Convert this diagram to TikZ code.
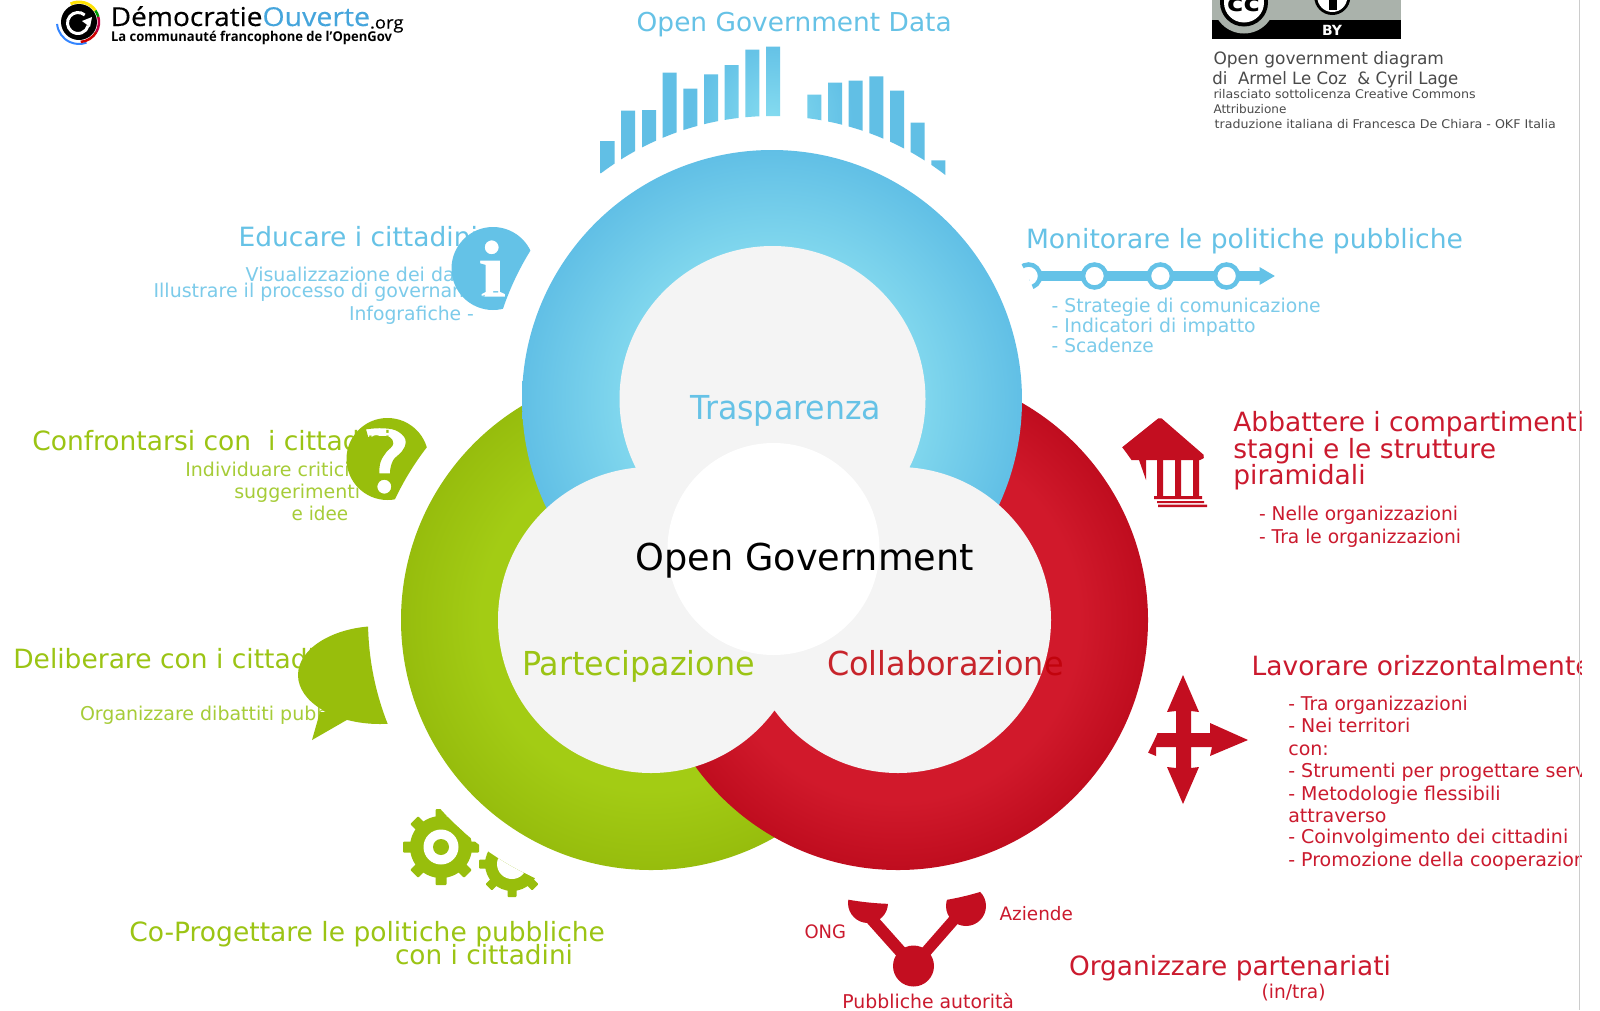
\documentclass[tikz,border=0pt]{standalone}
\usepackage{fontspec}
\usepackage{graphicx}
\setmainfont{DejaVu Sans}
\newfontfamily\logofont[FakeBold=0.35]{Open Sans}
\newfontfamily\logofontb{Open Sans}
\definecolor{bluet}{HTML}{66C2E6}
\definecolor{bluel}{HTML}{7CCBEA}
\definecolor{bluei}{HTML}{64C2E7}
\definecolor{greent}{HTML}{9BC414}
\definecolor{greenl}{HTML}{A6CC38}
\definecolor{greeni}{HTML}{98BE0C}
\definecolor{redt}{HTML}{CB1A2E}
\definecolor{redi}{HTML}{C30E20}
\definecolor{redc}{HTML}{C00008}
\definecolor{inner}{HTML}{F4F4F4}
\definecolor{credit}{HTML}{4A4A4A}
\definecolor{ccgray}{HTML}{AAB2AB}
\definecolor{logoblue}{HTML}{45A5DC}
\pgfdeclareradialshading{bluering}{\pgfpoint{0bp}{0bp}}{rgb(0bp)=(0.50,0.84,0.93);rgb(15.3bp)=(0.50,0.84,0.93);rgb(25bp)=(0.38,0.75,0.90);rgb(50bp)=(0.38,0.75,0.90)}
\pgfdeclareradialshading{greenring}{\pgfpoint{0bp}{0bp}}{rgb(0bp)=(0.64,0.80,0.08);rgb(17bp)=(0.64,0.80,0.08);rgb(25bp)=(0.59,0.74,0.05);rgb(50bp)=(0.59,0.74,0.05)}
\pgfdeclareradialshading{redring}{\pgfpoint{0bp}{0bp}}{rgb(0bp)=(0.82,0.10,0.17);rgb(18bp)=(0.82,0.10,0.17);rgb(25bp)=(0.75,0.05,0.12);rgb(50bp)=(0.75,0.05,0.12)}
\pgfdeclareradialshading{barshade}{\pgfpoint{0bp}{0bp}}{rgb(0bp)=(0.52,0.86,0.94);rgb(10bp)=(0.38,0.75,0.90);rgb(50bp)=(0.38,0.75,0.90)}
\newsavebox\fitbox
\newcommand\fitw[2]{\sbox\fitbox{#2}\pgfmathsetmacro\fitr{#1/\wd\fitbox}\scalebox{\fitr}[1]{\usebox\fitbox}}
\newcommand\fs[1]{\fontsize{#1}{#1}\selectfont}
\newcommand\outside[3]{\clip (-10,-10) rectangle (1610,1020) (#1,#2) circle (#3pt);}
\begin{document}
\begin{tikzpicture}[x=1pt,y=-1pt,
  txt/.style={anchor=base west,inner sep=0pt,outer sep=0pt},
  bt/.style={txt,text=bluet,font=\fs{26.5}},
  bl/.style={txt,text=bluel,font=\fs{19}},
  gt/.style={txt,text=greent,font=\fs{26.5}},
  gl/.style={txt,text=greenl,font=\fs{19}},
  rt/.style={txt,text=redt,font=\fs{26.5}},
  rl/.style={txt,text=redt,font=\fs{19}},
  cr/.style={txt,text=credit,font=\fs{17}},
  crs/.style={txt,text=credit,font=\fs{12}},
  core/.style={txt,font=\fs{33}}]
\useasboundingbox (0,0) rectangle (1600,1010);
\fill[white] (0,0) rectangle (1600,1010);

% rings
\shade[shading=greenring] (651,620) circle (250pt);
\shade[shading=redring] (898,620) circle (250pt);
\shade[shading=bluering] (772,400) circle (250pt);
\fill[inner] (772.5,399) circle (153pt) (651,620) circle (153pt) (898,620) circle (153pt);
\fill[white] (773.5,549) circle (106pt);

% data bars
\begin{scope}[even odd rule]
\outside{772}{400}{284}
\clip (600.7,141) rectangle (614.7,300) (621,110.7) rectangle (635,300) (642,110) rectangle (656,300)
 (662.7,72.7) rectangle (676.7,300) (683.3,88.7) rectangle (697.3,300) (704,74.3) rectangle (718,300)
 (724.7,65) rectangle (738.7,300) (745.3,49.7) rectangle (759.3,300) (766,46.7) rectangle (780,300)
 (807.3,94.7) rectangle (821.3,300) (828,82.7) rectangle (842,300) (848.7,80.7) rectangle (862.7,300)
 (869.3,76.3) rectangle (883.3,300) (890,90.7) rectangle (904,300) (910.7,122.7) rectangle (924.7,300)
 (931.3,160.3) rectangle (945.3,300);
\shade[shading=barshade] (772,118) circle (200pt);
\end{scope}

% texts on the blue side
\node[txt,text=bluet,font=\fs{26}] (ogd) at (636.7,31) {\fitw{315}{Open Government Data}};
\node[bt] (edu) at (238.6,246.7) {Educare i cittadini};
\node[bl] (edu1) at (245.7,281.7) {Visualizzazione dei dati -};
\node[bl] (edu2) at (153.6,297.3) {Illustrare il processo di governance -};
\node[bl] (edu3) at (349,320) {\fitw{125}{Infografiche -}};
\node[bt] (mon) at (1026,248) {\fitw{437}{Monitorare le politiche pubbliche}};
\node[bl] (mon1) at (1051.7,312.7) {\fitw{269}{- Strategie di comunicazione}};
\node[bl] (mon2) at (1051.7,332.7) {\fitw{204}{- Indicatori di impatto}};
\node[bl] (mon3) at (1051.7,352.3) {\fitw{102}{- Scadenze}};

% info icon
\begin{scope}[even odd rule]
\outside{772}{400}{284}
\fill[bluei] (493,268.5) circle (41.5pt)
 (491.7,247.3) circle (7pt)
 (480,260.7) -- (500,260.7) -- (500,291.7) -- (505,294) -- (505,296.7) -- (481.7,296.7) -- (481.7,294) -- (485.7,291.7) -- (485.7,265) -- (480,263.3) -- cycle;
\end{scope}

% monitoring icon
\begin{scope}[even odd rule]
\outside{772}{400}{284}
\fill[bluei] (1028.6,271) rectangle (1260,281);
\fill[bluei] (1259.5,267) -- (1274.8,276) -- (1259.5,285) -- cycle;
\foreach \cx in {1028.6,1094.5,1160.4,1226.6}
  \filldraw[draw=bluei,fill=white,line width=4.5pt] (\cx,276) circle (11.5pt);
\end{scope}

% texts on the green side
\node[gt] (conf) at (32.3,450) {Confrontarsi con \ i cittadini};
\node[gl] (conf1) at (185.3,476) {Individuare criticità};
\node[gl] (conf2) at (234.3,498.3) {suggerimenti};
\node[gl] (conf3) at (291.7,520.7) {\fitw{56.5}{e idee}};
\node[gt] (del) at (13.3,668.3) {Deliberare con i cittadini};
\node[gl] (del1) at (80,720.7) {Organizzare dibattiti pubblici};
\node[gt] (cop) at (129.3,941.7) {\fitw{475.7}{Co-Progettare le politiche pubbliche}};
\node[gt] (cop2) at (395,964) {\fitw{178}{con i cittadini}};

% question icon
\begin{scope}[even odd rule]
\outside{651}{620}{283}
\fill[greeni] (387.5,459) circle (41pt)
 (384.3,486.7) circle (7pt)
 (366,429.3) .. controls (372,428.5) and (378,428) .. (383.3,428.3) .. controls (390,428.5) and (395,429.5) .. (398.3,431.7) .. controls (403,434.5) and (405.7,438) .. (405.7,441.7) .. controls (405.7,445.5) and (404,449) .. (401.7,451.7) .. controls (399,455) and (395,457) .. (393.3,460) .. controls (391,464) and (390,469) .. (390,473.3) -- (379.3,473.3) .. controls (379.3,469) and (379.5,465) .. (380.7,461.7) .. controls (382,457.5) and (384.5,455) .. (386.7,451.7) .. controls (389,449) and (393.3,446.5) .. (393.3,443.3) .. controls (393.3,440.5) and (392,438.5) .. (390,437.3) .. controls (388,436.3) and (385.5,436) .. (383.3,436) .. controls (378,436) and (373,436.5) .. (368.3,437.3) -- cycle;
\end{scope}

% speech bubble
\begin{scope}[even odd rule]
\outside{651}{620}{283}
\fill[greeni] (380,675) ellipse (82pt and 49pt);
\fill[greeni] (320,712) -- (312,740) -- (345,721) -- (360,712) -- cycle;
\end{scope}

% gears
\begin{scope}[even odd rule]
\outside{651}{620}{283}
\fill[greeni] (441,847) circle (31pt);
\foreach \a in {0,45,...,315}
  \fill[greeni,rotate around={\a:(441,847)},rounded corners=1pt] (435.5,809) rectangle (446.5,830);
\fill[white] (441,847) circle (17.5pt);
\fill[greeni] (441,847) circle (8pt);
\fill[greeni] (512,864) circle (27pt);
\foreach \a in {0,45,...,315}
  \fill[greeni,rotate around={\a:(512,864)},rounded corners=1pt] (507.5,831) rectangle (516.5,850);
\fill[white] (512,864) circle (15pt);
\end{scope}

% texts on the red side
\node[rt] (abb1) at (1233.3,431.7) {Abbattere i compartimenti};
\node[rt] (abb2) at (1233.3,458.3) {stagni e le strutture};
\node[rt] (abb3) at (1233.3,484) {piramidali};
\node[rl] (abb4) at (1259,520.7) {\fitw{199}{- Nelle organizzazioni}};
\node[rl] (abb5) at (1259,543.3) {\fitw{202}{- Tra le organizzazioni}};
\node[rt] (lav) at (1251.7,675) {Lavorare orizzontalmente};
\node[rl] (lav1) at (1288.3,710) {\fitw{179.4}{- Tra organizzazioni}};
\node[rl] (lav2) at (1288.3,732.3) {- Nei territori};
\node[rl] (lav3) at (1288.3,755) {con:};
\node[rl] (lav4) at (1288.3,777.3) {- Strumenti per progettare servizi};
\node[rl] (lav5) at (1288.3,800) {- Metodologie flessibili};
\node[rl] (lav6) at (1288.3,822.3) {attraverso};
\node[rl] (lav7) at (1288.3,843.3) {- Coinvolgimento dei cittadini};
\node[rl] (lav8) at (1288.3,866) {- Promozione della cooperazione};
\node[rl,font=\fs{18.5}] (ong) at (804.5,938.6) {\fitw{41.5}{ONG}};
\node[rl,font=\fs{18.5}] (azi) at (999.6,920.7) {\fitw{73.4}{Aziende}};
\node[rl] (pub) at (842.4,1008.5) {\fitw{171.6}{Pubbliche autorità}};
\node[rt] (org) at (1069,975.5) {\fitw{322}{Organizzare partenariati}};
\node[rl] (int) at (1261.6,998) {\fitw{64}{(in/tra)}};

% building
\begin{scope}[even odd rule]
\outside{898}{620}{283}
\fill[redi,rounded corners=2pt] (1160,417) -- (1205,456) -- (1202,460) -- (1120,460) -- (1120,449) -- cycle;
\fill[redi] (1157,460) rectangle (1163,497) (1175,460) rectangle (1181,497) (1193,460) rectangle (1199,497);
\fill[redi] (1139,460) -- (1146,460) -- (1146,480) -- cycle;
\fill[redi] (1154,496) rectangle (1202,499) (1157,501) rectangle (1204,503) (1158,504.5) rectangle (1207,507);
\end{scope}

% cross arrows
\begin{scope}[even odd rule]
\outside{898}{620}{283}
\fill[redi] (1183,675) -- (1199,712) -- (1191,711) -- (1191,733) -- (1210,733) -- (1210,723) -- (1248,740) -- (1210,756) -- (1212,747) -- (1191,747) -- (1191,768) -- (1199,767) -- (1183,804) -- (1167,767) -- (1176,768) -- (1176,747) -- (1156,747) -- (1156,756) -- (1118,740) -- (1156,723) -- (1156,733) -- (1176,733) -- (1176,711) -- (1167,712) -- cycle;
\end{scope}

% partnership icon
\begin{scope}[even odd rule]
\outside{898}{620}{284}
\fill[redi] (913.5,966) circle (20.5pt);
\fill[redi] (868,903) circle (20pt);
\fill[redi] (966,906) circle (20pt);
\draw[redi,line width=12pt] (868,915) -- (913.5,966);
\draw[redi,line width=11pt] (966,906) -- (913.5,966);
\end{scope}

% centre labels
\node[core,text=bluet] (tra) at (690.5,419) {\fitw{190.5}{Trasparenza}};
\node[core,text=black,font=\fs{37}] (og) at (635.8,570.7) {\fitw{338}{Open Government}};
\node[core,text=greent] (par) at (522,675) {\fitw{232.8}{Partecipazione}};
\node[core,text=redc,text opacity=0.85] (col) at (827,675) {\fitw{236.6}{Collaborazione}};

% logo
\draw[blue!60!cyan!80!white,line width=2pt] (79,22) ++(185:22pt) arc[start angle=185,end angle=290,radius=22pt];
\draw[yellow!85!orange,line width=3pt] (79,22) ++(115:20pt) arc[start angle=115,end angle=35,radius=20pt];
\draw[green!60!black,line width=2.5pt] (79,22) ++(35:20pt) arc[start angle=35,end angle=15,radius=20pt];
\draw[purple,line width=2.5pt] (79,22) ++(15:20pt) arc[start angle=15,end angle=-30,radius=20pt];
\draw[red!80!black,line width=2.5pt] (79,22) ++(-30:20pt) arc[start angle=-30,end angle=-85,radius=20pt];
\fill[black] (79,22) circle (18pt);
\draw[white,line width=3pt] (78,23) ++(50:10.5pt) arc[start angle=50,end angle=345,radius=10.5pt];
\fill[white] (82,21) -- (92,17) -- (90,27) -- cycle;
\node[txt,text=black,font=\logofont\fs{26}] (dem) at (110.7,26) {\fitw{151.8}{Démocratie}};
\node[txt,text=logoblue,font=\logofont\fs{26}] (ouv) at (262.5,26) {\fitw{107.5}{Ouverte}};
\node[txt,text=black,font=\logofont\fs{17}] (dot) at (370,28.5) {\fitw{33.5}{.org}};
\node[txt,text=black,font=\logofontb\bfseries\fs{13.5}] (tag) at (111,41.5) {\fitw{281}{La communauté francophone de l’OpenGov}};

% licence badge
\fill[ccgray] (1212.4,0) rectangle (1400.7,20);
\fill[black] (1212.4,20) rectangle (1400.7,39);
\begin{scope}
\clip (1212.4,0) rectangle (1400.7,39);
\fill[ccgray] (1244,2.5) circle (31pt);
\fill[black] (1244,2.5) circle (24pt);
\fill[white] (1244,2.5) circle (20pt);
\fill[black] (1332.3,-3) circle (18pt);
\fill[white] (1332.3,-3) circle (15pt);
\fill[black] (1329,-3) rectangle (1336.5,10);
\end{scope}
\node[txt,text=black,font=\bfseries\fs{24}] (cc) at (1227,11.5) {\fitw{33}{cc}};
\node[txt,text=white,font=\bfseries\fs{14}] (by) at (1322,35) {BY};
\node[cr] (cr1) at (1213.5,64) {\fitw{230.5}{Open government diagram}};
\node[cr] (cr2) at (1212.4,84) {\fitw{246}{di \ Armel Le Coz \ \& Cyril Lage}};
\node[crs] (cr3) at (1213.5,98.7) {\fitw{262.2}{rilasciato sottolicenza Creative Commons}};
\node[crs] (cr4) at (1213.5,113.3) {Attribuzione};
\node[crs] (cr5) at (1214.7,128) {\fitw{341}{traduzione italiana di Francesca De Chiara - OKF Italia}};

% page edge
\fill[white] (1582,0) rectangle (1600,1010);
\draw[black!20,line width=1pt] (1579.5,0) -- (1579.5,1010);
\end{tikzpicture}
\end{document}
